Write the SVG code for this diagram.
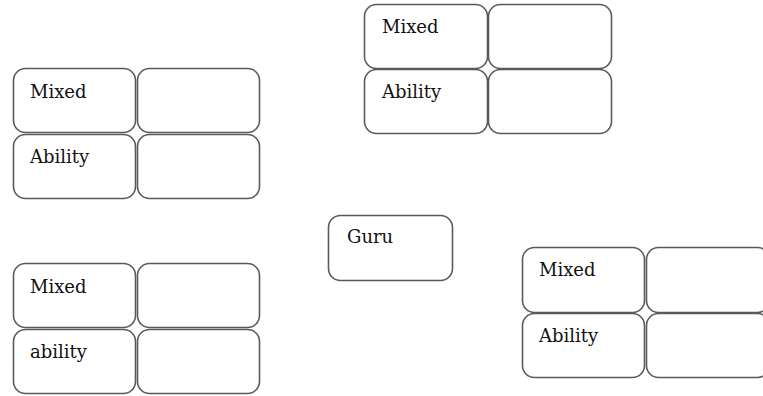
<svg xmlns="http://www.w3.org/2000/svg" width="763" height="396" viewBox="0 0 763 396">
  <style>
    .cell { fill: #ffffff; stroke: #5a5a5a; stroke-width: 1.6; }
    .label { font-family: "DejaVu Serif", "Liberation Serif", serif; font-size: 18px; fill: #111111; }
  </style>
  <rect x="0" y="0" width="763" height="396" fill="#ffffff"/>

  <!-- top grid -->
  <g id="grid-top">
    <rect class="cell" x="364.5" y="4.5" width="123" height="64" rx="12"/>
    <rect class="cell" x="488.5" y="4.5" width="123" height="64" rx="12"/>
    <rect class="cell" x="364.5" y="69.5" width="123" height="64" rx="12"/>
    <rect class="cell" x="488.5" y="69.5" width="123" height="64" rx="12"/>
    <text class="label" x="382" y="33">Mixed</text>
    <text class="label" x="382" y="98">Ability</text>
  </g>

  <!-- left upper grid -->
  <g id="grid-left-upper">
    <rect class="cell" x="13.5" y="68.5" width="122" height="64" rx="12"/>
    <rect class="cell" x="137.5" y="68.5" width="122" height="64" rx="12"/>
    <rect class="cell" x="13.5" y="134.5" width="122" height="64" rx="12"/>
    <rect class="cell" x="137.5" y="134.5" width="122" height="64" rx="12"/>
    <text class="label" x="30" y="98">Mixed</text>
    <text class="label" x="30" y="163">Ability</text>
  </g>

  <!-- left lower grid -->
  <g id="grid-left-lower">
    <rect class="cell" x="13.5" y="263.5" width="122" height="64" rx="12"/>
    <rect class="cell" x="137.5" y="263.5" width="122" height="64" rx="12"/>
    <rect class="cell" x="13.5" y="329.5" width="122" height="64" rx="12"/>
    <rect class="cell" x="137.5" y="329.5" width="122" height="64" rx="12"/>
    <text class="label" x="30" y="293">Mixed</text>
    <text class="label" x="30" y="358">ability</text>
  </g>

  <!-- right grid -->
  <g id="grid-right">
    <rect class="cell" x="522.5" y="247.5" width="122" height="65" rx="12"/>
    <rect class="cell" x="646.5" y="247.5" width="123" height="65" rx="12"/>
    <rect class="cell" x="522.5" y="313.5" width="122" height="64" rx="12"/>
    <rect class="cell" x="646.5" y="313.5" width="123" height="64" rx="12"/>
    <text class="label" x="539" y="276">Mixed</text>
    <text class="label" x="539" y="342">Ability</text>
  </g>

  <!-- centre node -->
  <g id="guru">
    <rect class="cell" x="328.5" y="215.5" width="124" height="65" rx="12"/>
    <text class="label" x="347" y="243">Guru</text>
  </g>

  <g id="connectors"></g>
</svg>
